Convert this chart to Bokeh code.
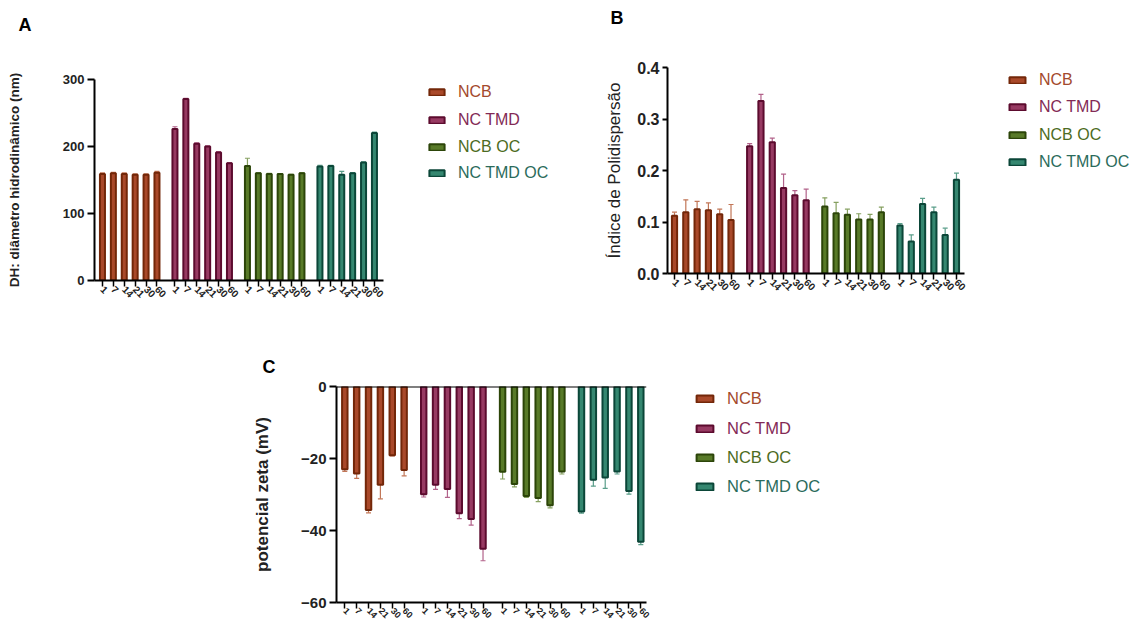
import math
from bokeh.plotting import figure
from bokeh.models import (FixedTicker, Range1d, Whisker, ColumnDataSource, Legend,
                          LegendItem, Span, PrintfTickFormatter, TeeHead, Spacer)
from bokeh.layouts import row, column
from bokeh.embed import file_html
from bokeh.resources import INLINE

# ---------------- data ----------------
days = ["1", "7", "14", "21", "30", "60"]
groups = ["NCB", "NC TMD", "NCB OC", "NC TMD OC"]

dh_ncb = [159, 160, 159, 158, 158, 161]
dh_ncb_err = [1.5, 1.5, 1.5, 1.0, 1.0, 2.0]
dh_tmd = [226, 271, 204, 200, 191, 175]
dh_tmd_err = [3.5, 1.0, 1.5, 1.0, 1.5, 1.0]
dh_ncboc = [171, 160, 159, 159, 158, 160]
dh_ncboc_err = [11.5, 1.0, 1.0, 0.5, 0.5, 1.0]
dh_tmdoc = [170, 171, 158, 160, 176, 220]
dh_tmdoc_err = [2.0, 1.0, 5.0, 1.0, 1.0, 1.5]

pdi_ncb = [0.112, 0.119, 0.125, 0.123, 0.115, 0.104]
pdi_ncb_err = [0.007, 0.024, 0.015, 0.014, 0.010, 0.030]
pdi_tmd = [0.247, 0.335, 0.255, 0.166, 0.152, 0.142]
pdi_tmd_err = [0.005, 0.013, 0.008, 0.027, 0.009, 0.022]
pdi_ncboc = [0.130, 0.117, 0.114, 0.105, 0.105, 0.119]
pdi_ncboc_err = [0.017, 0.021, 0.011, 0.011, 0.010, 0.010]
pdi_tmdoc = [0.093, 0.062, 0.135, 0.119, 0.075, 0.182]
pdi_tmdoc_err = [0.004, 0.013, 0.011, 0.010, 0.013, 0.013]

zeta_ncb = [-23.0, -24.2, -34.3, -27.3, -19.1, -23.2]
zeta_ncb_err = [0.6, 1.3, 0.8, 3.9, 0.2, 1.6]
zeta_tmd = [-29.9, -27.3, -28.5, -35.2, -36.8, -45.1]
zeta_tmd_err = [0.8, 1.3, 2.3, 1.5, 1.7, 3.3]
zeta_ncboc = [-23.7, -27.1, -30.4, -31.0, -33.0, -23.6]
zeta_ncboc_err = [2.0, 0.8, 0.4, 1.0, 0.7, 0.7]
zeta_tmdoc = [-34.7, -25.9, -25.3, -23.6, -29.0, -43.1]
zeta_tmdoc_err = [0.5, 1.8, 3.0, 0.7, 0.9, 0.8]

dh_ticks = [0, 100, 200, 300]
pdi_ticks = [0.0, 0.1, 0.2, 0.3, 0.4]
zeta_ticks = [-60, -40, -20, 0]
panel_letters = ["A", "B", "C"]

# ---------------- style ----------------
fills = ["#A9492A", "#973A62", "#587A28", "#358770"]
lines = ["#732709", "#5C0B2E", "#2C4509", "#0B4638"]
errc = ["#C27657", "#B2628A", "#86A060", "#5A9E8A"]
textc = ["#A3492C", "#832A55", "#4C6B22", "#2B6B5B"]
FONT = "Liberation Sans"
STEP = 6.65
BW = 0.46
NAN = float("nan")


def legend_fig(W, H, vx, vys, font, gw, gh):
    p = figure(width=W, height=H, x_range=Range1d(0, 1), y_range=Range1d(0, 1),
               output_backend="svg", toolbar_location=None,
               x_axis_location=None, y_axis_location=None,
               min_border_left=0, min_border_right=0, min_border_top=0, min_border_bottom=0)
    p.outline_line_color = None
    p.xgrid.grid_line_color = None
    p.ygrid.grid_line_color = None
    for g in range(4):
        r = p.vbar(x=[NAN], top=[NAN], width=0.1, fill_color=fills[g],
                   line_color=lines[g], line_width=2)
        leg = Legend(items=[LegendItem(label=groups[g], renderers=[r])],
                     location=(vx, vys[g]), padding=0, margin=0, spacing=0,
                     glyph_width=gw, glyph_height=gh, label_standoff=12,
                     label_height=18, label_text_font=FONT, label_text_font_size=font,
                     label_text_color=textc[g], label_text_baseline="middle",
                     border_line_alpha=0, background_fill_alpha=0)
        p.add_layout(leg)
    return p


def build(W, H, bl, br, bt, bb, xr, yr, yticks, series, errs, ylabel, ylab_size,
          ylab_style, ylab_standoff, ytick_size, ytick_out, letter, letter_off,
          letter_lines, letter_standoff, xlab_size="10px", xtick_out=6,
          negative=False, fmt=None):
    p = figure(width=W, height=H, x_range=Range1d(*xr), y_range=Range1d(*yr),
               output_backend="svg", toolbar_location=None,
               min_border_left=bl, min_border_right=br, min_border_top=bt,
               min_border_bottom=bb)
    p.outline_line_color = None
    p.xgrid.grid_line_color = None
    p.ygrid.grid_line_color = None

    p.title.text = letter + "\n" * letter_lines
    p.title.align = "left"
    p.title.offset = letter_off
    p.title.standoff = letter_standoff
    p.title.text_font = FONT
    p.title.text_font_style = "bold"
    p.title.text_font_size = "18px"
    p.title.text_color = "black"

    xticks = []
    overrides = {}
    for g in range(4):
        xs = [round(g * STEP + i, 3) for i in range(6)]
        vals = series[g]
        e = errs[g]
        if negative:
            lo = [v - d for v, d in zip(vals, e)]
            hi = list(vals)
        else:
            lo = list(vals)
            hi = [v + d for v, d in zip(vals, e)]
        src = ColumnDataSource(dict(x=xs, top=vals, lo=lo, hi=hi))
        head = TeeHead(size=5, line_color=errc[g], line_width=1.2)
        if negative:
            w = Whisker(base="x", upper="hi", lower="lo", source=src,
                        line_color=errc[g], line_width=1.2,
                        upper_head=None, lower_head=head)
        else:
            w = Whisker(base="x", upper="hi", lower="lo", source=src,
                        line_color=errc[g], line_width=1.2,
                        lower_head=None, upper_head=head)
        w.level = "underlay"
        p.add_layout(w)
        p.vbar(x="x", top="top", bottom=0, width=BW, source=src,
               fill_color=fills[g], line_color=lines[g], line_width=2)
        for x, d in zip(xs, days):
            xticks.append(x)
            overrides[x] = d

    xa = p.xaxis[0]
    xa.ticker = FixedTicker(ticks=xticks)
    xa.major_label_overrides = overrides
    xa.major_label_orientation = -math.pi / 4
    xa.major_label_text_font = FONT
    xa.major_label_text_font_style = "bold"
    xa.major_label_text_font_size = xlab_size
    xa.major_label_standoff = 1
    xa.major_tick_in = 0
    xa.major_tick_out = xtick_out
    xa.major_tick_line_width = 1.5
    xa.minor_tick_line_color = None
    xa.axis_line_width = 2
    xa.axis_line_color = "black"
    xa.major_tick_line_color = "black"
    xa.major_label_text_color = "#222222"

    ya = p.yaxis[0]
    ya.ticker = FixedTicker(ticks=yticks)
    if fmt:
        ya.formatter = PrintfTickFormatter(format=fmt)
    ya.major_label_text_font = FONT
    ya.major_label_text_font_style = "bold"
    ya.major_label_text_font_size = ytick_size
    ya.major_label_text_color = "#222222"
    ya.major_label_standoff = 3
    ya.major_tick_in = 0
    ya.major_tick_out = ytick_out
    ya.major_tick_line_width = 2
    ya.minor_tick_line_color = None
    ya.axis_line_width = 2
    ya.axis_line_color = "black"
    ya.major_tick_line_color = "black"
    ya.axis_label = ylabel
    ya.axis_label_text_font = FONT
    ya.axis_label_text_font_size = ylab_size
    ya.axis_label_text_font_style = ylab_style
    ya.axis_label_text_color = "#222222"
    ya.axis_label_standoff = ylab_standoff

    if negative:
        p.add_layout(Span(location=0, dimension="width", line_color="black", line_width=2))
    return p


pA = build(400, 340, 94, 17, 79, 60, (-0.73, 25.78), (0, 300), dh_ticks,
           [dh_ncb, dh_tmd, dh_ncboc, dh_tmdoc],
           [dh_ncb_err, dh_tmd_err, dh_ncboc_err, dh_tmdoc_err],
           "DH: diâmetro hidrodinâmico (nm)", "13.5px", "bold", 38, "13px", 7,
           panel_letters[0], -76, 2, 10)

pB = build(385, 340, 77, 11, 67, 67, (-0.62, 25.66), (0, 0.4), pdi_ticks,
           [pdi_ncb, pdi_tmd, pdi_ncboc, pdi_tmdoc],
           [pdi_ncb_err, pdi_tmd_err, pdi_ncboc_err, pdi_tmdoc_err],
           "Índice de Polidispersão", "17px", "normal", 10, "16px", 5,
           panel_letters[1], -57, 2, 0, fmt="%.1f")

pC = build(430, 286, 104, 16, 46, 24, (-0.70, 25.43), (-60, 0), zeta_ticks,
           [zeta_ncb, zeta_tmd, zeta_ncboc, zeta_tmdoc],
           [zeta_ncb_err, zeta_tmd_err, zeta_ncboc_err, zeta_tmdoc_err],
           "potencial zeta (mV)", "17px", "bold", 26, "15px", 7,
           panel_letters[2], -74, 0, 20, xlab_size="9px", xtick_out=6, negative=True)

# legend positions: offsets from the bottom-left corner of each legend figure
gA = legend_fig(190, 340, 27, [238.7, 211.0, 184.3, 157.7], "16px", 19, 8)
gB = legend_fig(157, 340, 32, [251.0, 223.7, 196.0, 168.7], "16px", 20, 8)
gC = legend_fig(230, 286, 32, [217.7, 187.7, 158.7, 130.3], "16.5px", 21, 9)

# each plot is wrapped in its own column so that rows do not align their frames
top = row(column(pA), column(gA), column(pB), column(gB))
bottom = row(Spacer(width=232, height=286), column(pC), column(gC))
layout = column(top, bottom)

open("out.html", "w").write(file_html(layout, INLINE))
